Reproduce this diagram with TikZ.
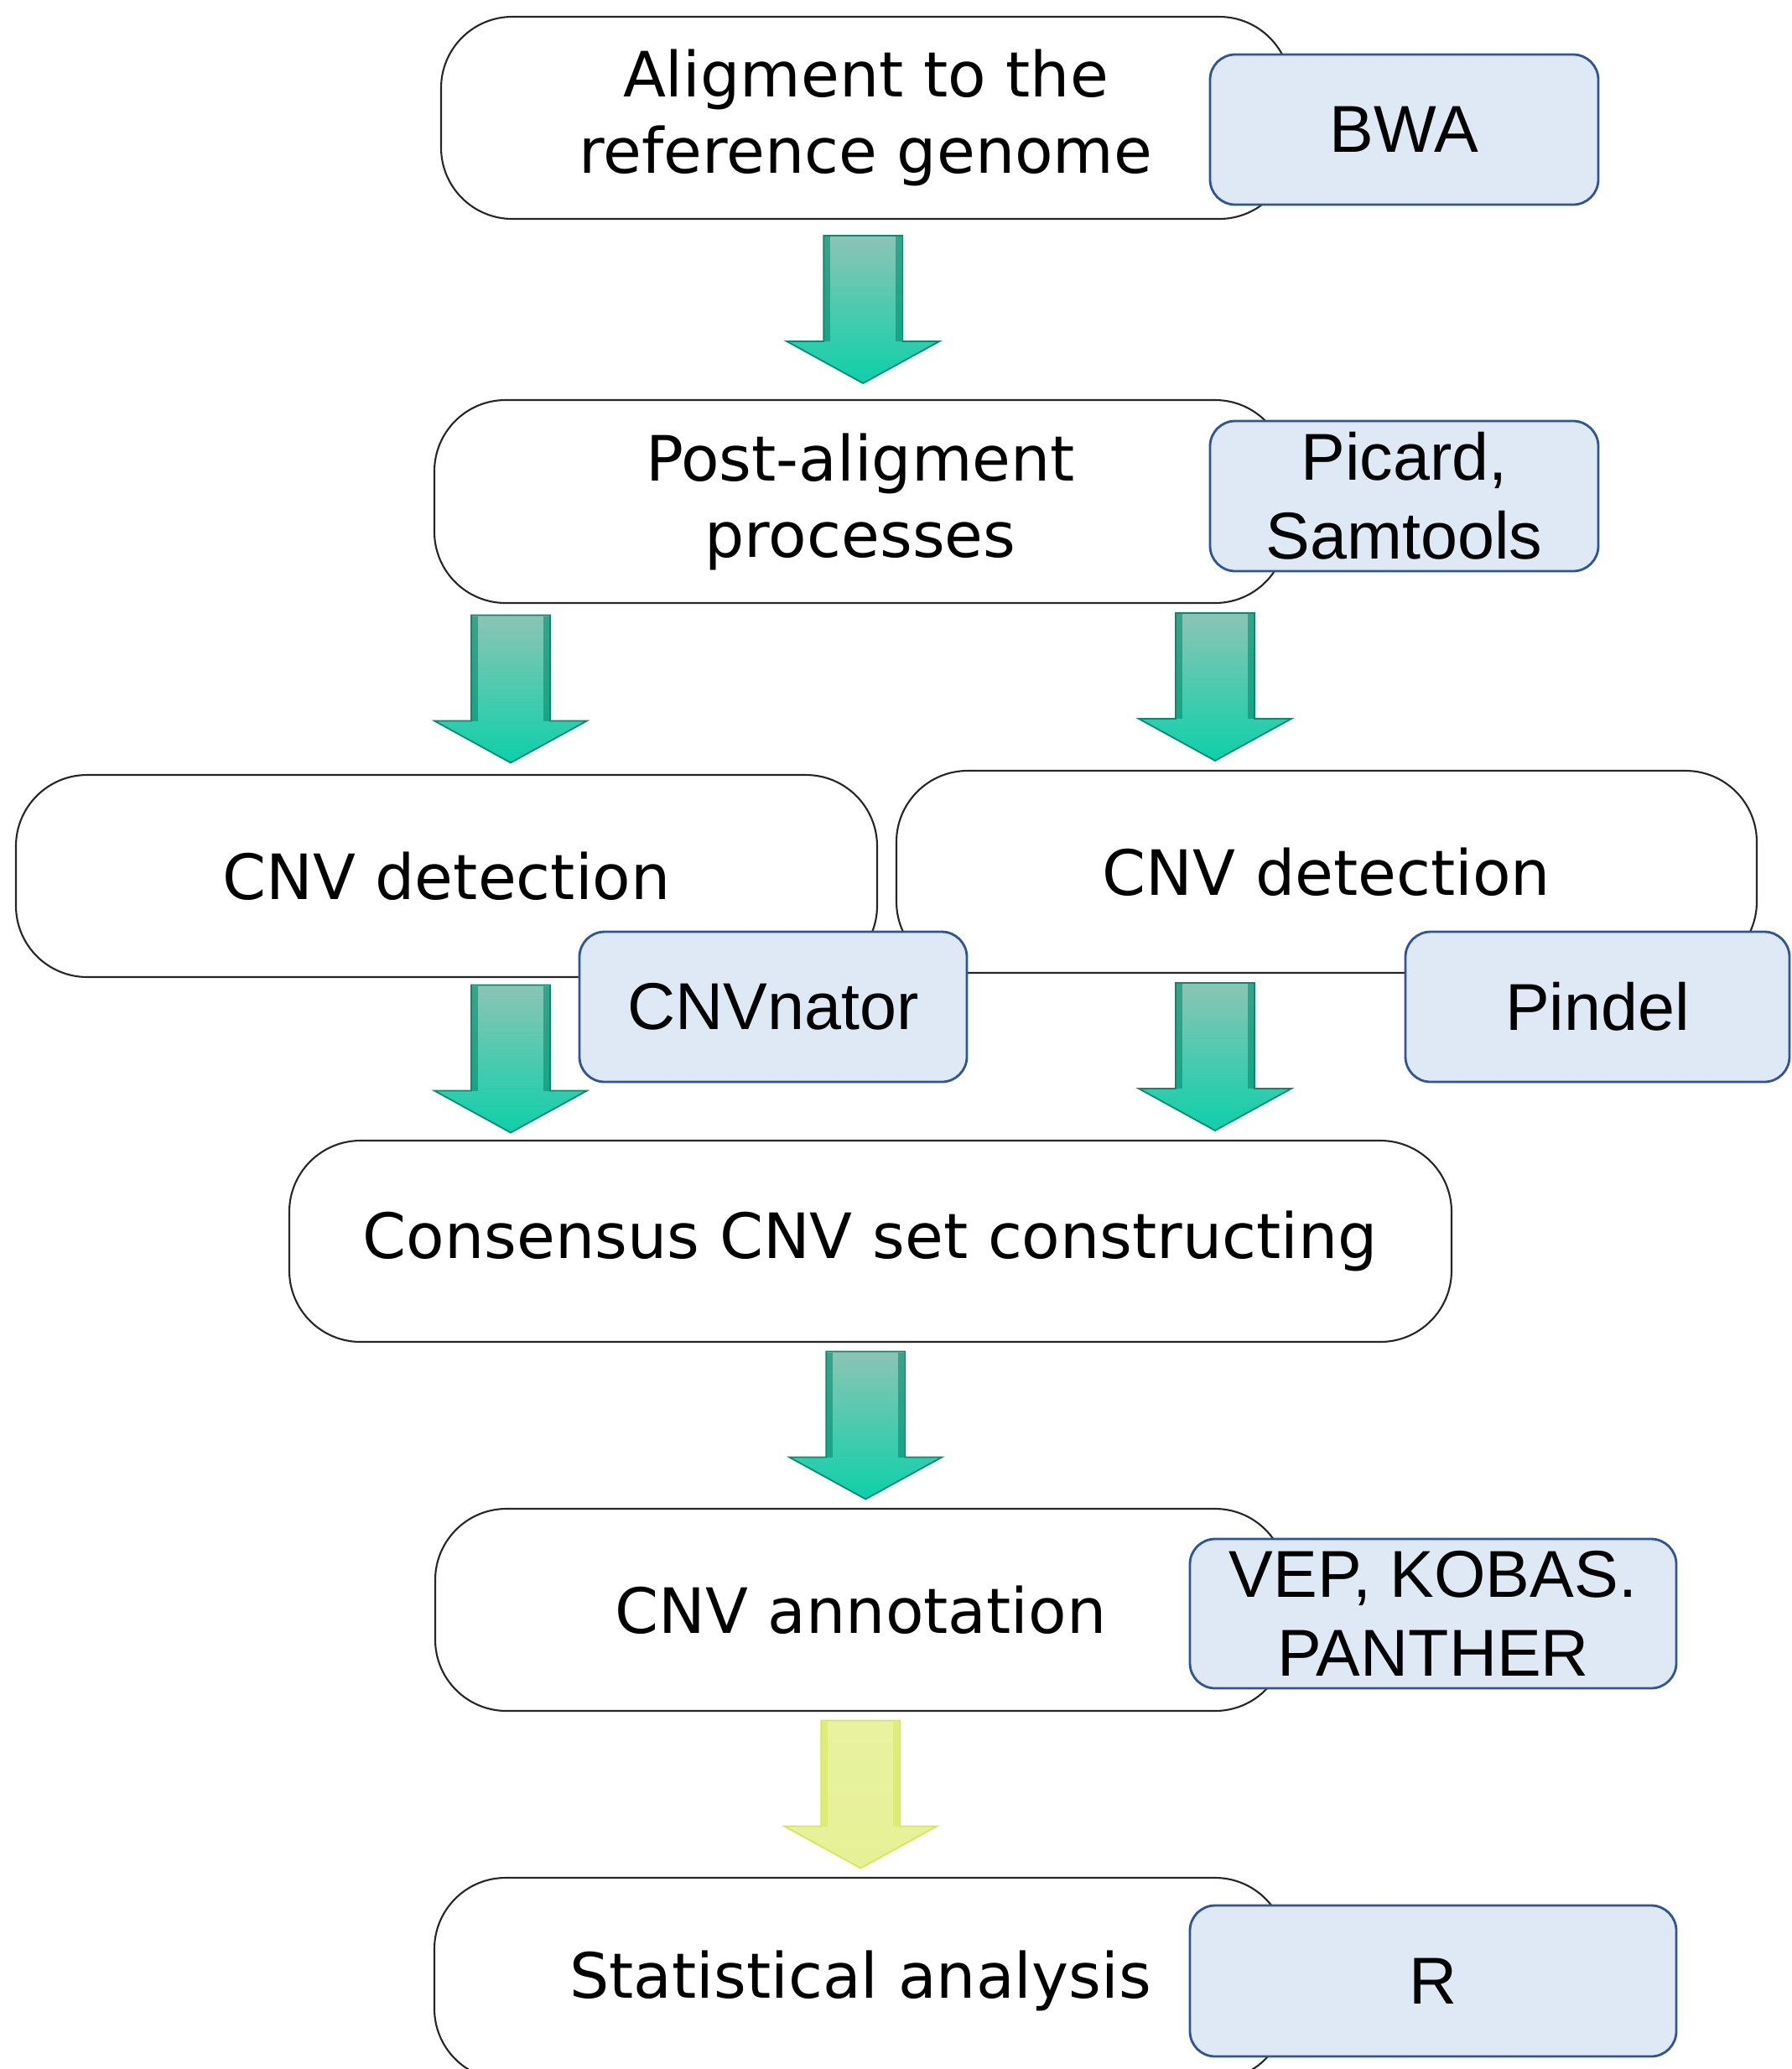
\documentclass[tikz,border=0pt]{standalone}
\usepackage{fontspec}
\usetikzlibrary{calc}

\newfontfamily\stepfont{DejaVu Sans}
\newfontfamily\toolfont{Liberation Sans}

\definecolor{toolfill}{RGB}{222,233,245}
\definecolor{toolborder}{RGB}{47,85,151}
\definecolor{tealtop}{RGB}{140,196,180}
\definecolor{tealmid}{RGB}{8,158,126}
\definecolor{tealbot}{RGB}{13,208,170}
\definecolor{tealedge}{RGB}{7,138,110}
\definecolor{limetop}{RGB}{232,242,160}
\definecolor{limemid}{RGB}{218,234,100}
\definecolor{limebot}{RGB}{230,241,150}
\definecolor{limeedge}{RGB}{213,232,85}

\tikzset{
  stepbox/.style={draw=black!85, line width=0.6pt, rounded corners=0.85cm,
    align=center, inner sep=0pt,
    font=\stepfont\fontsize{21.2}{25.9}\selectfont},
  toolbox/.style={draw=toolborder, fill=toolfill, line width=0.8pt,
    rounded corners=0.3cm, align=center, inner sep=0pt,
    font=\toolfont\fontsize{22.5}{26.7}\selectfont},
  tealarrow/.pic={
    \shadedraw[top color=tealtop, middle color=tealmid, bottom color=tealbot,
      draw=tealedge, line width=0.5pt]
      (-0.47,0.88) -- (0.47,0.88) -- (0.47,-0.38) -- (0.91,-0.38) -- (0,-0.88)
      -- (-0.91,-0.38) -- (-0.47,-0.38) -- cycle;
    \fill[tealedge, opacity=0.6] (-0.46,0.87) rectangle (-0.39,-0.38);
    \fill[tealedge, opacity=0.6] (0.39,0.87) rectangle (0.46,-0.38);
  },
  limearrow/.pic={
    \shadedraw[top color=limetop, middle color=limemid, bottom color=limebot,
      draw=limeedge, line width=0.5pt]
      (-0.47,0.88) -- (0.47,0.88) -- (0.47,-0.38) -- (0.91,-0.38) -- (0,-0.88)
      -- (-0.91,-0.38) -- (-0.47,-0.38) -- cycle;
    \fill[limeedge, opacity=0.5] (-0.46,0.87) rectangle (-0.39,-0.38);
    \fill[limeedge, opacity=0.5] (0.39,0.87) rectangle (0.46,-0.38);
  }
}

\begin{document}
\begin{tikzpicture}
  \useasboundingbox (0,0) rectangle (21.37,-24.67);
  \clip (0,0) rectangle (21.37,-24.67);

  % Pipeline steps
  \node[stepbox, minimum width=10.13cm, minimum height=2.41cm] (align) at (10.325,-1.405) {Aligment to the\\reference genome};
  \node[stepbox, minimum width=10.16cm, minimum height=2.42cm] (post) at (10.26,-5.98) {Post-aligment\\processes};
  \node[stepbox, minimum width=10.27cm, minimum height=2.41cm] (cnvL) at (5.325,-10.445) {CNV detection};
  \node[stepbox, minimum width=10.26cm, minimum height=2.41cm] (cnvR) at (15.82,-10.395) {CNV detection};
  \node[stepbox, minimum width=13.86cm, minimum height=2.40cm] (consensus) at (10.38,-14.80) {Consensus CNV set constructing};
  \node[stepbox, minimum width=10.15cm, minimum height=2.41cm] (annot) at (10.265,-19.195) {CNV annotation};
  \node[stepbox, minimum width=10.16cm, minimum height=2.41cm, text depth=0.1cm] (stats) at (10.26,-23.595) {Statistical analysis};

  % Tools
  \node[toolbox, minimum width=4.63cm, minimum height=1.79cm] (bwa) at (16.745,-1.545) {BWA};
  \node[toolbox, minimum width=4.63cm, minimum height=1.79cm] (picard) at (16.745,-5.915) {Picard,\\Samtools};
  \node[toolbox, minimum width=4.62cm, minimum height=1.79cm] (cnvnator) at (9.22,-12.005) {CNVnator};
  \node[toolbox, minimum width=4.58cm, minimum height=1.79cm] (pindel) at (19.05,-12.005) {Pindel};
  \node[toolbox, minimum width=5.80cm, minimum height=1.78cm] (vep) at (17.09,-19.24) {VEP, KOBAS.\\PANTHER};
  \node[toolbox, minimum width=5.80cm, minimum height=1.80cm] (rtool) at (17.09,-23.62) {R};

  % Arrows between steps
  \coordinate (xl) at (6.09,0);
  \coordinate (xr) at (14.49,0);
  \path (align.south) -- (post.north) coordinate[midway] (a1);
  \path (post.south -| xl) -- (cnvL.north -| xl) coordinate[midway] (a2);
  \path (post.south -| xr) -- (cnvR.north -| xr) coordinate[midway] (a3);
  \path (cnvL.south -| xl) -- (consensus.north -| xl) coordinate[midway] (a4);
  \path (cnvR.south -| xr) -- (consensus.north -| xr) coordinate[midway] (a5);
  \path (consensus.south) -- (annot.north) coordinate[midway] (a6);
  \path (annot.south) -- (stats.north) coordinate[midway] (a7);
  \foreach \a in {a1,a2,a3,a4,a5,a6}
    \pic at (\a) {tealarrow};
  \pic at (a7) {limearrow};
\end{tikzpicture}
\end{document}
